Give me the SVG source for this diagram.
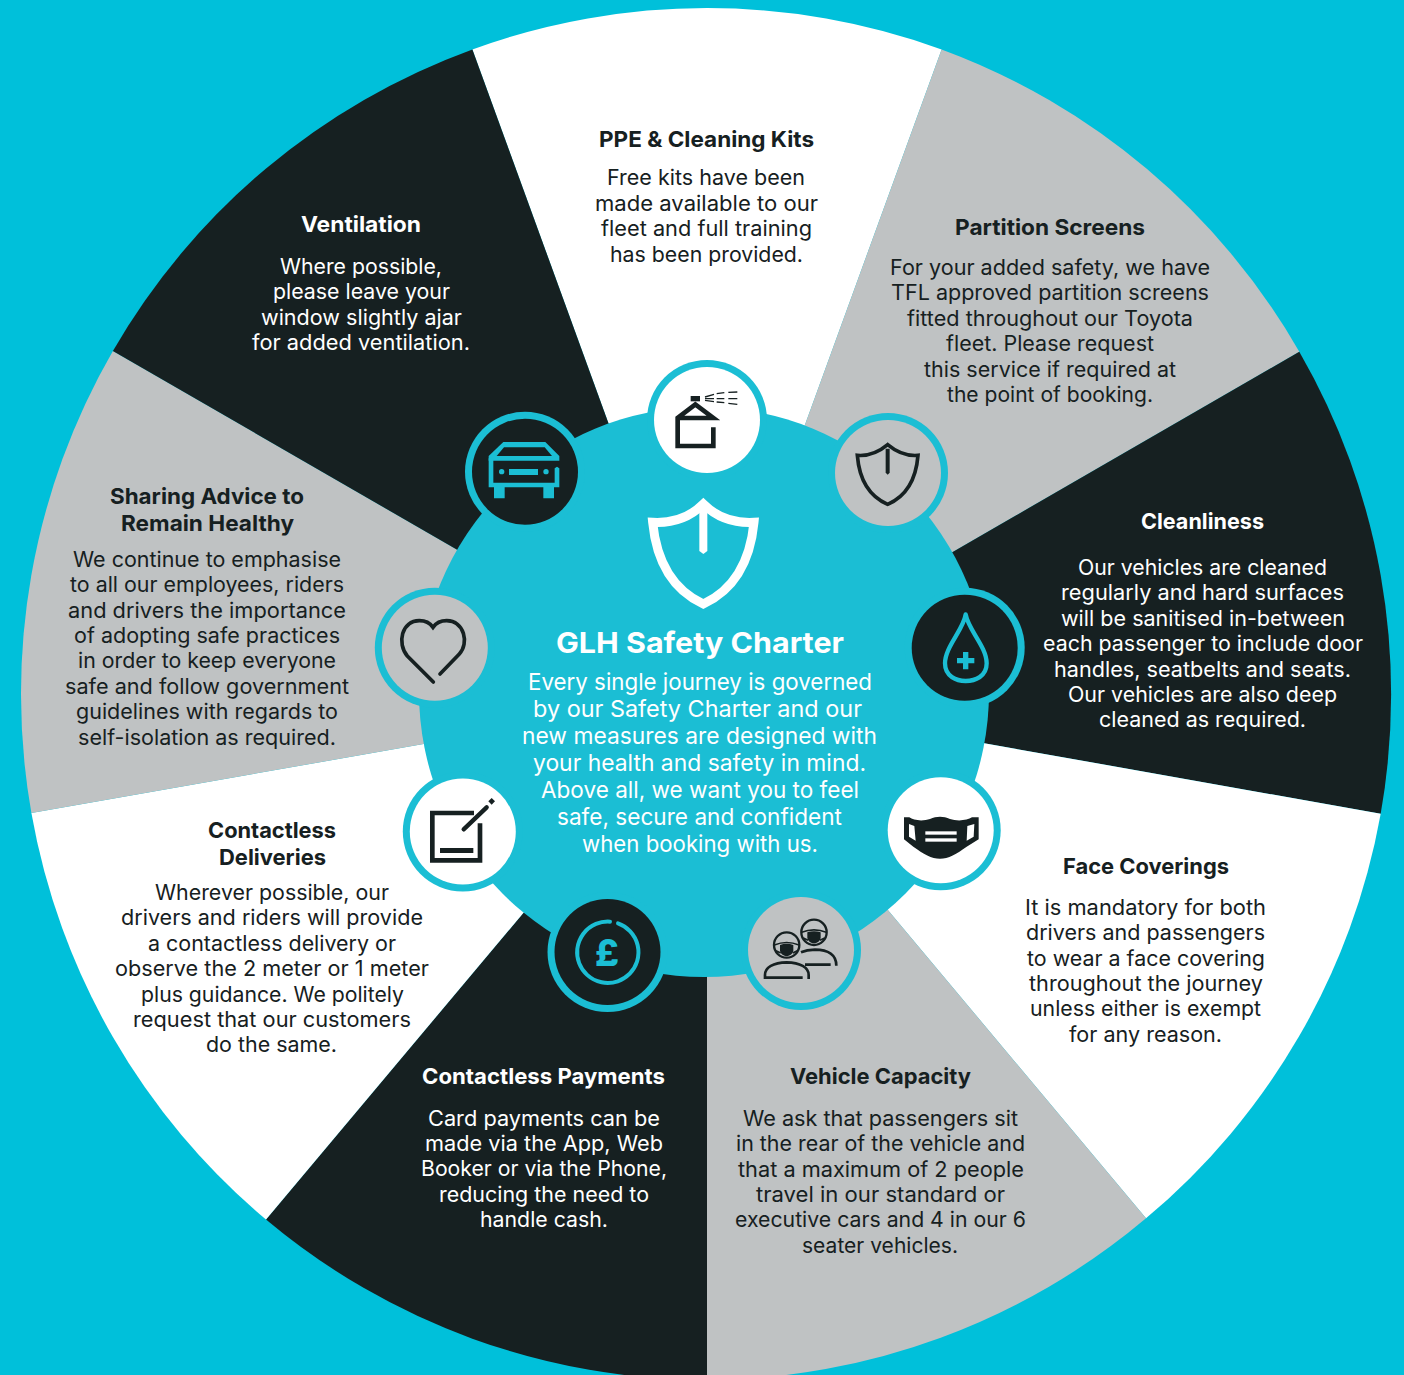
<svg xmlns="http://www.w3.org/2000/svg" width="1404" height="1375" viewBox="0 0 1404 1375">
<style>
text{font-family:Inter,"Liberation Sans",sans-serif;text-anchor:middle}
.b{font-size:21px;font-weight:400;transform:translateY(.8px)}
.h{font-size:22px;font-weight:700;transform:translateY(.6px)}
.dk{fill:#162021}.wt{fill:#fff}.gy{fill:#bfc2c3}.tl{fill:#1bbed4}
.hub{font-size:23px;fill:#fff}
.ls{fill:none;stroke:#162021}
.lt{fill:none;stroke:#1bbed4}
</style>
<rect width="1404" height="1375" fill="#00c0da"/>
<g id="wheel">
<path class="wt" d="M707 694L472.4 49.4A686 686 0 0 1 941.6 49.4Z"/>
<path class="gy" d="M707 694L941.6 49.4A686 686 0 0 1 1299.3 351.7Z"/>
<path class="dk" d="M707 694L1299.3 351.7A686 686 0 0 1 1380.7 813.7Z"/>
<path class="wt" d="M707 694L1380.7 813.7A686 686 0 0 1 1146 1218.3Z"/>
<path class="gy" d="M707 694L1146 1218.3A686 686 0 0 1 707 1380Z"/>
<path class="dk" d="M707 694L707 1380A686 686 0 0 1 266 1219.5Z"/>
<path class="wt" d="M707 694L266 1219.5A686 686 0 0 1 31.4 813.1Z"/>
<path class="gy" d="M707 694L31.4 813.1A686 686 0 0 1 112.9 351Z"/>
<path class="dk" d="M707 694L112.9 351A686 686 0 0 1 472.4 49.4Z"/>
</g>
<g id="hub">
<circle class="tl" cx="704" cy="692" r="285"/>
<g transform="translate(440 350) scale(.33333)">
<path d="M790 462Q730 522 638 517C650 640 700 720 790 762C880 720 930 640 942 517Q850 522 790 462Z" fill="none" stroke="#fff" stroke-width="27"/>
<path class="wt" d="M778 480H802V603L790 612L778 603Z"/>
</g>
<text x="700" y="653" font-size="29" font-weight="700" fill="#fff" textLength="288" lengthAdjust="spacingAndGlyphs">GLH Safety Charter</text>
<g class="hub">
<text x="700" y="690" textLength="344" lengthAdjust="spacingAndGlyphs">Every single journey is governed</text>
<text x="697.5" y="717" textLength="329" lengthAdjust="spacingAndGlyphs">by our Safety Charter and our</text>
<text x="699.5" y="744" textLength="355" lengthAdjust="spacingAndGlyphs">new measures are designed with</text>
<text x="699.5" y="771" textLength="333" lengthAdjust="spacingAndGlyphs">your health and safety in mind.</text>
<text x="700" y="798" textLength="318" lengthAdjust="spacingAndGlyphs">Above all, we want you to feel</text>
<text x="699.5" y="825" textLength="285" lengthAdjust="spacingAndGlyphs">safe, secure and confident</text>
<text x="700" y="852" textLength="236" lengthAdjust="spacingAndGlyphs">when booking with us.</text>
</g>
</g>
<g id="node-ppe">
<circle class="tl" cx="707" cy="420" r="60"/><circle class="wt" cx="707" cy="420" r="53"/>
<g transform="translate(440 350) scale(.33333)">
<rect class="dk" x="752" y="138" width="28" height="16"/>
<path class="ls" stroke-width="14" d="M820 232V288H713V204L766 163L820 204H713"/>
<path class="ls" stroke-width="4" d="M795 141L822 133M830 131L853 128M865 127L892 126M795 146H822M830 146H853M865 146H892M795 151L822 155M830 156L853 158M865 160L892 163"/>
</g>
<g class="dk">
<text class="h" x="706.5" y="146" textLength="215" lengthAdjust="spacingAndGlyphs">PPE &amp; Cleaning Kits</text>
<text class="b" x="706" y="184" textLength="198" lengthAdjust="spacingAndGlyphs">Free kits have been</text>
<text class="b" x="706.5" y="210" textLength="223" lengthAdjust="spacingAndGlyphs">made available to our</text>
<text class="b" x="706.5" y="235" textLength="211" lengthAdjust="spacingAndGlyphs">fleet and full training</text>
<text class="b" x="706.5" y="261" textLength="193" lengthAdjust="spacingAndGlyphs">has been provided.</text>
</g>
</g>
<g id="node-partition">
<circle class="tl" cx="888" cy="473" r="60"/><circle class="gy" cx="888" cy="473" r="53"/>
<g transform="translate(440 350) scale(.33333)">
<path class="ls" stroke-width="11" d="M1343 284Q1300 320 1252 316C1258 390 1290 440 1343 463C1396 440 1428 390 1434 316Q1386 320 1343 284Z"/>
<path class="dk" d="M1337 296H1349V368L1343 374L1337 368Z"/>
</g>
<g class="dk">
<text class="h" x="1050" y="234" textLength="190" lengthAdjust="spacingAndGlyphs">Partition Screens</text>
<text class="b" x="1050" y="274" textLength="320" lengthAdjust="spacingAndGlyphs">For your added safety, we have</text>
<text class="b" x="1050" y="299" textLength="318" lengthAdjust="spacingAndGlyphs">TFL approved partition screens</text>
<text class="b" x="1050" y="325" textLength="286" lengthAdjust="spacingAndGlyphs">fitted throughout our Toyota</text>
<text class="b" x="1050" y="350" textLength="208" lengthAdjust="spacingAndGlyphs">fleet. Please request</text>
<text class="b" x="1050" y="376" textLength="252" lengthAdjust="spacingAndGlyphs">this service if required at</text>
<text class="b" x="1050" y="401" textLength="206" lengthAdjust="spacingAndGlyphs">the point of booking.</text>
</g>
</g>
<g id="node-cleanliness">
<circle class="tl" cx="964.7" cy="647.8" r="60"/><circle class="dk" cx="964.7" cy="647.8" r="53"/>
<g transform="translate(880 580) scale(.33333)">
<path class="lt" stroke-width="13" stroke-linejoin="round" d="M257 103C250 150 195 200 195 250C195 290 230 303 257 303C285 303 320 290 320 250C320 200 265 150 257 103Z"/>
<path class="tl" d="M249 216H265V234H283V250H265V268H249V250H231V234H249Z"/>
</g>
<g class="wt">
<text class="h" x="1202.5" y="528" textLength="123" lengthAdjust="spacingAndGlyphs">Cleanliness</text>
<text class="b" x="1202.5" y="574" textLength="249" lengthAdjust="spacingAndGlyphs">Our vehicles are cleaned</text>
<text class="b" x="1202.5" y="599" textLength="283" lengthAdjust="spacingAndGlyphs">regularly and hard surfaces</text>
<text class="b" x="1203" y="625" textLength="284" lengthAdjust="spacingAndGlyphs">will be sanitised in-between</text>
<text class="b" x="1203" y="650" textLength="320" lengthAdjust="spacingAndGlyphs">each passenger to include door</text>
<text class="b" x="1202.5" y="676" textLength="297" lengthAdjust="spacingAndGlyphs">handles, seatbelts and seats.</text>
<text class="b" x="1202.5" y="701" textLength="269" lengthAdjust="spacingAndGlyphs">Our vehicles are also deep</text>
<text class="b" x="1202.5" y="726" textLength="207" lengthAdjust="spacingAndGlyphs">cleaned as required.</text>
</g>
</g>
<g id="node-face">
<circle class="tl" cx="940.7" cy="830.3" r="60"/><circle class="wt" cx="940.7" cy="830.3" r="53"/>
<g transform="translate(880 580) scale(.33333)">
<path class="dk" d="M72 712H88C100 722 130 724 150 717C170 708 190 708 210 717C230 724 262 722 276 712H296V778L260 800C230 822 205 836 180 836C155 836 130 822 100 800L72 778Z"/>
<path class="wt" d="M87 732L103 738L107 782L87 770ZM283 732L262 738L260 782L281 770Z"/>
<rect class="wt" x="136" y="754" width="94" height="10"/><rect class="wt" x="136" y="775" width="94" height="10"/>
</g>
<g class="dk">
<text class="h" x="1146" y="873" textLength="166" lengthAdjust="spacingAndGlyphs">Face Coverings</text>
<text class="b" x="1145.5" y="914" textLength="241" lengthAdjust="spacingAndGlyphs">It is mandatory for both</text>
<text class="b" x="1145.5" y="939" textLength="239" lengthAdjust="spacingAndGlyphs">drivers and passengers</text>
<text class="b" x="1146" y="965" textLength="238" lengthAdjust="spacingAndGlyphs">to wear a face covering</text>
<text class="b" x="1146" y="990" textLength="234" lengthAdjust="spacingAndGlyphs">throughout the journey</text>
<text class="b" x="1145.5" y="1015" textLength="231" lengthAdjust="spacingAndGlyphs">unless either is exempt</text>
<text class="b" x="1145.5" y="1041" textLength="153" lengthAdjust="spacingAndGlyphs">for any reason.</text>
</g>
</g>
<g id="node-capacity">
<circle class="tl" cx="801" cy="950" r="60"/><circle class="gy" cx="801" cy="950" r="53"/>
<g transform="translate(540 880) scale(.33333)">
<g class="ls" stroke-width="7">
<circle cx="740" cy="195" r="38"/><circle cx="822" cy="157" r="38"/>
<path stroke-width="8" d="M675 297V285C675 262 700 248 740 247C780 248 806 262 806 285V297M673 293H788"/>
<path stroke-width="8" d="M783 217Q800 210 825 209C865 209 889 225 889 257M795 254H872"/>
<path stroke-width="5" d="M703 195Q740 180 777 195M708 212L722 219M772 212L758 219M785 157Q822 142 859 157M790 174L804 181M854 174L840 181"/>
</g>
<path class="dk" d="M720 195Q740 188 760 195V212C758 222 748 228 740 228C732 228 722 222 720 212ZM802 157Q822 150 842 157V174C840 184 830 190 822 190C814 190 804 184 802 174Z"/>
</g>
<g class="dk">
<text class="h" x="880.5" y="1083" textLength="181" lengthAdjust="spacingAndGlyphs">Vehicle Capacity</text>
<text class="b" x="880.5" y="1125" textLength="275" lengthAdjust="spacingAndGlyphs">We ask that passengers sit</text>
<text class="b" x="880.5" y="1150" textLength="289" lengthAdjust="spacingAndGlyphs">in the rear of the vehicle and</text>
<text class="b" x="881" y="1176" textLength="286" lengthAdjust="spacingAndGlyphs">that a maximum of 2 people</text>
<text class="b" x="880.5" y="1201" textLength="249" lengthAdjust="spacingAndGlyphs">travel in our standard or</text>
<text class="b" x="880.5" y="1226" textLength="291" lengthAdjust="spacingAndGlyphs">executive cars and 4 in our 6</text>
<text class="b" x="880" y="1252" textLength="156" lengthAdjust="spacingAndGlyphs">seater vehicles.</text>
</g>
</g>
<g id="node-payments">
<circle class="tl" cx="607.5" cy="952" r="60"/><circle class="dk" cx="607.5" cy="952" r="53"/>
<g transform="translate(540 880) scale(.33333)">
<path class="lt" stroke-width="12" stroke-linecap="round" d="M234 130A92 92 0 1 1 210 125"/>
</g>
<text x="607" y="966" font-size="37" font-weight="800" class="tl">£</text>
<g class="wt">
<text class="h" x="543.5" y="1083" textLength="243" lengthAdjust="spacingAndGlyphs">Contactless Payments</text>
<text class="b" x="544" y="1125" textLength="232" lengthAdjust="spacingAndGlyphs">Card payments can be</text>
<text class="b" x="544" y="1150" textLength="238" lengthAdjust="spacingAndGlyphs">made via the App, Web</text>
<text class="b" x="544" y="1175" textLength="246" lengthAdjust="spacingAndGlyphs">Booker or via the Phone,</text>
<text class="b" x="544" y="1201" textLength="210" lengthAdjust="spacingAndGlyphs">reducing the need to</text>
<text class="b" x="544" y="1226" textLength="128" lengthAdjust="spacingAndGlyphs">handle cash.</text>
</g>
</g>
<g id="node-deliveries">
<circle class="tl" cx="462.8" cy="831.5" r="60"/><circle class="wt" cx="462.8" cy="831.5" r="53"/>
<g transform="translate(370 580) scale(.33333)">
<path class="ls" stroke-width="14" d="M330 730V841H187V699H312"/>
<rect class="dk" x="210" y="804" width="100" height="15"/>
<path class="ls" stroke-width="13" stroke-linecap="round" d="M281 748L350 682"/>
<path class="dk" d="M365 654L375 664L365 674L355 664Z"/>
</g>
<g class="dk">
<text class="h" x="272" y="837" textLength="128" lengthAdjust="spacingAndGlyphs">Contactless</text>
<text class="h" x="272.5" y="864" textLength="107" lengthAdjust="spacingAndGlyphs">Deliveries</text>
<text class="b" x="272" y="899" textLength="234" lengthAdjust="spacingAndGlyphs">Wherever possible, our</text>
<text class="b" x="272" y="924" textLength="302" lengthAdjust="spacingAndGlyphs">drivers and riders will provide</text>
<text class="b" x="272" y="950" textLength="248" lengthAdjust="spacingAndGlyphs">a contactless delivery or</text>
<text class="b" x="272" y="975" textLength="314" lengthAdjust="spacingAndGlyphs">observe the 2 meter or 1 meter</text>
<text class="b" x="272.5" y="1001" textLength="263" lengthAdjust="spacingAndGlyphs">plus guidance. We politely</text>
<text class="b" x="272" y="1026" textLength="278" lengthAdjust="spacingAndGlyphs">request that our customers</text>
<text class="b" x="271.5" y="1051" textLength="131" lengthAdjust="spacingAndGlyphs">do the same.</text>
</g>
</g>
<g id="node-advice">
<circle class="tl" cx="434.8" cy="647.8" r="60"/><circle class="gy" cx="434.8" cy="647.8" r="53"/>
<g transform="translate(370 580) scale(.33333)">
<path class="ls" stroke-width="11" stroke-linecap="round" d="M190 306L112 228C80 190 95 122 148 122C170 122 182 132 189 142C196 132 208 122 230 122C283 122 298 190 268 222L210 282"/>
</g>
<g class="dk">
<text class="h" x="207" y="503" textLength="194" lengthAdjust="spacingAndGlyphs">Sharing Advice to</text>
<text class="h" x="207.5" y="530" textLength="173" lengthAdjust="spacingAndGlyphs">Remain Healthy</text>
<text class="b" x="207" y="566" textLength="268" lengthAdjust="spacingAndGlyphs">We continue to emphasise</text>
<text class="b" x="207" y="591" textLength="274" lengthAdjust="spacingAndGlyphs">to all our employees, riders</text>
<text class="b" x="207" y="617" textLength="278" lengthAdjust="spacingAndGlyphs">and drivers the importance</text>
<text class="b" x="207" y="642" textLength="266" lengthAdjust="spacingAndGlyphs">of adopting safe practices</text>
<text class="b" x="207" y="667" textLength="258" lengthAdjust="spacingAndGlyphs">in order to keep everyone</text>
<text class="b" x="207" y="693" textLength="284" lengthAdjust="spacingAndGlyphs">safe and follow government</text>
<text class="b" x="207" y="718" textLength="262" lengthAdjust="spacingAndGlyphs">guidelines with regards to</text>
<text class="b" x="207" y="744" textLength="258" lengthAdjust="spacingAndGlyphs">self-isolation as required.</text>
</g>
</g>
<g id="node-ventilation">
<circle class="tl" cx="525" cy="471.7" r="60"/><circle class="dk" cx="525" cy="471.7" r="53"/>
<g transform="translate(440 350) scale(.33333)">
<path class="tl" d="M190 276H316L358 318V332H146V318Z"/>
<path class="dk" d="M192 292H314L336 318H170Z"/>
<path class="tl" d="M146 325H160V398H344V355L351 350L358 355V412H342V445H310V412H194V445H162V412H146Z"/>
<circle class="tl" cx="185" cy="365" r="8"/><circle class="tl" cx="318" cy="365" r="8"/>
<rect class="tl" x="207" y="357" width="87" height="18"/>
</g>
<g class="wt">
<text class="h" x="361" y="231" textLength="120" lengthAdjust="spacingAndGlyphs">Ventilation</text>
<text class="b" x="361" y="273" textLength="162" lengthAdjust="spacingAndGlyphs">Where possible,</text>
<text class="b" x="361.5" y="298" textLength="177" lengthAdjust="spacingAndGlyphs">please leave your</text>
<text class="b" x="361.5" y="324" textLength="201" lengthAdjust="spacingAndGlyphs">window slightly ajar</text>
<text class="b" x="361" y="349" textLength="218" lengthAdjust="spacingAndGlyphs">for added ventilation.</text>
</g>
</g>
</svg>
